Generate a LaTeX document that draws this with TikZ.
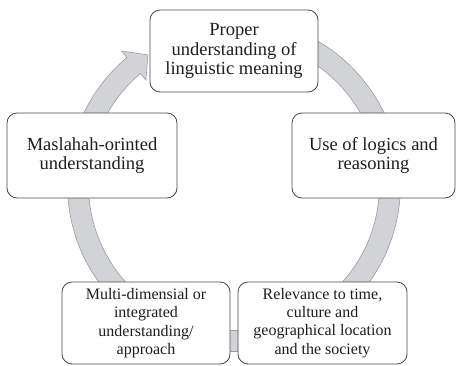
\documentclass[tikz,border=0pt]{standalone}
\usepackage{fontspec}
\setmainfont{Liberation Serif}
\definecolor{ringfill}{HTML}{D2D3D7}
\definecolor{ringline}{HTML}{9A9DA5}
\definecolor{boxline}{HTML}{4A4A4A}
\definecolor{txt}{HTML}{1E1E1E}
\begin{document}
\begin{tikzpicture}[x=1pt,y=1pt,
  box/.style={draw=boxline, line width=0.8pt, fill=white, rounded corners=10pt,
    align=center, inner sep=0pt, text=txt},
  bigtxt/.style={font=\fontsize{18.5pt}{19.5pt}\selectfont},
  smalltxt/.style={font=\fontsize{16pt}{18.3pt}\selectfont},
  ring/.style={fill=ringfill, draw=ringline, line width=0.6pt, line join=miter}]
\useasboundingbox (0,0) rectangle (456,-365);
\coordinate (C) at (234,-185);
% continuous cycle ring with a single arrow head
\path[ring] ([shift={(130:166.5pt)}]C)
  arc[start angle=130, end angle=445, radius=166.5pt]
  -- ([shift={(445:145.5pt)}]C)
  arc[start angle=445, end angle=130, radius=145.5pt]
  -- ([shift={(130:137pt)}]C)
  -- ([shift={(123.5:156pt)}]C)
  -- ([shift={(130:175pt)}]C)
  -- cycle;
% boxes
\node[box, bigtxt, minimum width=168pt, minimum height=82pt] (n1) at (234,-51)
  {Proper\\understanding of\\linguistic meaning};
\node[box, bigtxt, minimum width=170pt, minimum height=85pt] (n5) at (92,-155.5)
  {Maslahah-orinted\\understanding};
\node[box, bigtxt, minimum width=163pt, minimum height=85pt] (n2) at (373.5,-155.5)
  {Use of logics and\\reasoning};
\node[box, smalltxt, minimum width=168pt, minimum height=82pt] (n4) at (146,-323)
  {Multi-dimensial or\\integrated\\understanding/\\approach};
\node[box, smalltxt, minimum width=169pt, minimum height=82pt] (n3) at (322.5,-323)
  {Relevance to time,\\culture and\\geographical location\\and the society};
\end{tikzpicture}
\end{document}
